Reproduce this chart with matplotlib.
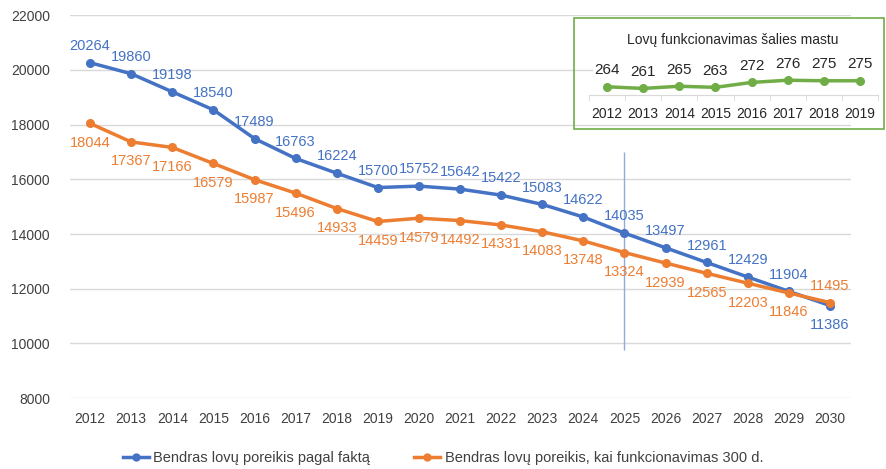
import numpy as np
import matplotlib
matplotlib.use('Agg')
import matplotlib.pyplot as plt
from matplotlib.lines import Line2D
from matplotlib.patches import Rectangle

plt.rcParams['font.family'] = ['Liberation Sans', 'DejaVu Sans']

# data
years = list(range(2012, 2031))
fact = [20264, 19860, 19198, 18540, 17489, 16763, 16224, 15700, 15752, 15642,
        15422, 15083, 14622, 14035, 13497, 12961, 12429, 11904, 11386]
days300 = [18044, 17367, 17166, 16579, 15987, 15496, 14933, 14459, 14579, 14492,
           14331, 14083, 13748, 13324, 12939, 12565, 12203, 11846, 11495]

inset_years = list(range(2012, 2020))
inset_vals = [264, 261, 265, 263, 272, 276, 275, 275]

blue = '#4472C4'
orange = '#ED7D31'
green = '#70AD47'
grey = '#404040'

fig = plt.figure(figsize=(8.86, 4.69), dpi=100)
ax = fig.add_axes([0.0785, 0.151, 0.8815, 0.8166])

x = np.arange(len(years))
ax.plot(x, fact, color=blue, lw=2.5, marker='o', ms=5.5, zorder=3)
ax.plot(x, days300, color=orange, lw=2.5, marker='o', ms=5.5, zorder=3)

# 2025 marker line
ax.vlines(years.index(2025), 9750, 17000, color='#8FAADC', lw=1, zorder=2)

for i in x:
    last = i == len(x) - 1
    ax.annotate(str(fact[i]), (i, fact[i]), xytext=(0, -9 if last else 7),
                textcoords='offset points', ha='center',
                va='top' if last else 'bottom', color=blue, fontsize=10.5)
    ax.annotate(str(days300[i]), (i, days300[i]), xytext=(0, 7 if last else -9),
                textcoords='offset points', ha='center',
                va='bottom' if last else 'top', color=orange, fontsize=10.5)

ax.set_xlim(-0.5, len(years) - 0.5)
ax.set_ylim(8000, 22000)
ax.set_yticks(range(8000, 22001, 2000))
ax.set_xticks(x)
ax.set_xticklabels(years)
ax.tick_params(length=0, labelsize=10, colors=grey, pad=10)
ax.tick_params(axis='y', pad=14)
ax.grid(axis='y', color='#D9D9D9', lw=1)
ax.set_axisbelow(True)
for s in ax.spines.values():
    s.set_visible(False)

# inset: white plot area over the gridlines, then the green box
fig.patches.append(Rectangle((593 / 886, 1 - 119 / 469), 290 / 886, 67 / 469,
                             transform=fig.transFigure, facecolor='white',
                             edgecolor='none', zorder=0.5))
fig.patches.append(Rectangle((574 / 886, 1 - 129 / 469), 310 / 886, 111 / 469,
                             transform=fig.transFigure, fill=False,
                             edgecolor=green, lw=1.2, zorder=5))
fig.text(733 / 886, 1 - 40 / 469, 'Lovų funkcionavimas šalies mastu',
         ha='center', va='center', fontsize=10, color='#262626')

iax = fig.add_axes([589 / 886, 1 - 95 / 469, 289 / 886, 35 / 469], zorder=1)
ix = np.arange(len(inset_years))
iax.plot(ix, inset_vals, color=green, lw=2.5, marker='o', ms=5.5)
for i in ix:
    iax.annotate(str(inset_vals[i]), (i, inset_vals[i]), xytext=(0, 7),
                 textcoords='offset points', ha='center', va='bottom',
                 fontsize=11, color='#262626')
iax.set_xlim(-0.5, len(inset_years) - 0.5)
iax.set_ylim(249, 313)
iax.set_yticks([])
iax.set_xticks(ix)
iax.set_xticklabels(inset_years)
iax.set_xticks(np.arange(-0.5, len(inset_years)), minor=True)
iax.tick_params(axis='x', which='major', length=0, labelsize=10, colors='#262626', pad=9)
iax.tick_params(axis='x', which='minor', length=4, color='#D9D9D9')
for s in ['top', 'left', 'right']:
    iax.spines[s].set_visible(False)
iax.spines['bottom'].set_color('#D9D9D9')
iax.patch.set_alpha(0)

handles = [
    Line2D([], [], color=blue, lw=2.5, marker='o', ms=5),
    Line2D([], [], color=orange, lw=2.5, marker='o', ms=5),
]
fig.legend(handles, ['Bendras lovų poreikis pagal faktą',
                     'Bendras lovų poreikis, kai funkcionavimas 300 d.'],
           loc='center', bbox_to_anchor=(0.5, 1 - 458 / 469), ncol=2,
           frameon=False, fontsize=10.5, handlelength=1.8, handletextpad=0.3,
           columnspacing=3.0, labelcolor=grey)

fig.savefig('out.png', dpi=100)
